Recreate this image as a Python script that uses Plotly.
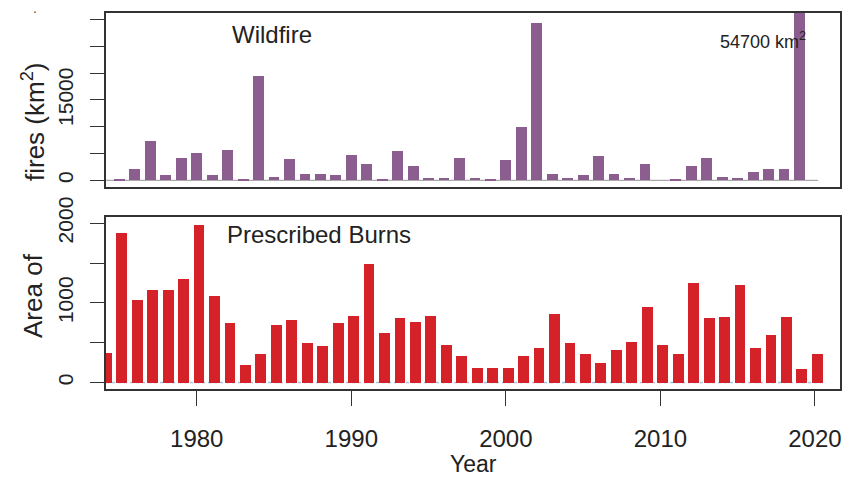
import plotly.graph_objects as go

# ---- data ----
wild_years = list(range(1975, 2020))
wild_area = [150, 2180, 7340, 930, 4100, 5100, 930, 5600, 150, 19530,
             620, 3920, 1240, 1240, 930, 4790, 2990, 150, 5540, 2740,
             430, 430, 4100, 430, 150, 3860, 9950, 29350, 1240, 430,
             930, 4480, 1240, 430, 2990, 0, 150, 2670, 4100, 620,
             430, 1550, 2180, 2180, 54700]

rx_years = list(range(1974, 2021))
rx_area = [370, 1884, 1040, 1159, 1159, 1304, 1983, 1093, 745, 228,
           364, 720, 782, 501, 456, 745, 836, 1494, 629, 807,
           766, 836, 480, 340, 182, 182, 182, 340, 439, 861,
           501, 364, 244, 414, 513, 956, 480, 364, 1250, 807,
           828, 1230, 439, 596, 828, 170, 364]

x_ticks = [1980, 1990, 2000, 2010, 2020]
wild_ticks = [0, 5000, 10000, 15000, 20000, 25000, 30000]
wild_ticktext = ["0", " ", " ", "15000", " ", " ", " "]
rx_ticks = [0, 500, 1000, 1500, 2000]
rx_ticktext = ["0", " ", "1000", " ", "2000"]

FONT = "Liberation Sans, Arial, sans-serif"
PURPLE = "#8b5e8f"
RED = "#d42228"
BORDER = "#333333"

fig = go.Figure()
fig.add_trace(go.Bar(x=wild_years, y=wild_area, width=0.7, marker_color=PURPLE,
                     marker_line_width=0, xaxis="x", yaxis="y", showlegend=False))
fig.add_trace(go.Bar(x=rx_years, y=rx_area, width=0.7, offset=-0.2, marker_color=RED,
                     marker_line_width=0, xaxis="x2", yaxis="y2", showlegend=False))

xrange = [1974.13, 2021.62]
axis_common = dict(showline=True, mirror=True, linecolor=BORDER, linewidth=1.5,
                   showgrid=False, zeroline=False, automargin=False)

fig.update_layout(
    width=843, height=477,
    margin=dict(l=106, r=3, t=13, b=88, autoexpand=False),
    paper_bgcolor="white", plot_bgcolor="white",
    font=dict(family=FONT, color="#222222"),
    bargap=0,
    xaxis=dict(domain=[0, 1], range=xrange, anchor="y", showticklabels=False,
               ticks="", **axis_common),
    yaxis=dict(domain=[0.538, 1], range=[-1200, 31200], anchor="x",
               tickvals=wild_ticks, ticktext=wild_ticktext, ticks="outside",
               ticklen=14, tickwidth=1.2, tickcolor=BORDER, tickangle=-90,
               tickfont=dict(size=21, family=FONT, color="#222222"),
               ticklabelstandoff=9, **axis_common),
    xaxis2=dict(domain=[0, 1], range=xrange, anchor="y2", tickvals=x_ticks,
                ticks="outside", ticklen=15, tickwidth=1.2, tickcolor=BORDER,
                tickfont=dict(size=24, family=FONT, color="#222222"),
                ticklabelstandoff=12, **axis_common),
    yaxis2=dict(domain=[0, 0.458], range=[-80, 2080], anchor="x2",
                tickvals=rx_ticks, ticktext=rx_ticktext, ticks="outside",
                ticklen=14, tickwidth=1.2, tickcolor=BORDER, tickangle=-90,
                tickfont=dict(size=21, family=FONT, color="#222222"),
                ticklabelstandoff=9, **axis_common),
)

# baselines
fig.add_shape(type="line", xref="x domain", yref="y", x0=0, x1=0.97, y0=0, y1=0,
              line=dict(color="#aaaaaa", width=1.2), layer="below")
fig.add_shape(type="line", xref="x2 domain", yref="y2", x0=0, x1=0.98, y0=0, y1=0,
              line=dict(color="#a9c4dc", width=1.5, dash="dot"), layer="below")

ann = [
    dict(text="Wildfire", x=0.226, y=0.944, size=24),
    dict(text="Prescribed Burns", x=0.290, y=0.41, size=24),
    dict(text="54700 km<sup>2</sup>", x=0.895, y=0.928, size=18),
]
for a in ann:
    fig.add_annotation(text=a["text"], x=a["x"], y=a["y"], xref="paper", yref="paper",
                       showarrow=False, font=dict(size=a["size"], family=FONT, color="#222222"),
                       xanchor="center", yanchor="middle")

for txt, yy in [("Area of", 0.25), ("fires (km<sup>2</sup>)", 0.71)]:
    fig.add_annotation(text=txt, x=-0.0995, y=yy, xref="paper", yref="paper",
                       showarrow=False, textangle=-90,
                       font=dict(size=26, family=FONT, color="#222222"),
                       xanchor="center", yanchor="middle")

fig.add_annotation(text="Year", x=0.5, y=-0.2, xref="paper", yref="paper",
                   showarrow=False, font=dict(size=23, family=FONT, color="#222222"),
                   xanchor="center", yanchor="middle")
fig.add_annotation(text=".", x=-0.097, y=1.012, xref="paper", yref="paper",
                   showarrow=False, font=dict(size=14, family=FONT, color="#555555"),
                   xanchor="center", yanchor="middle")

fig.write_html("out.html", config={"displayModeBar": False},
               post_script="document.body.style.margin='0px';"
                           "document.body.style.overflow='hidden';")
